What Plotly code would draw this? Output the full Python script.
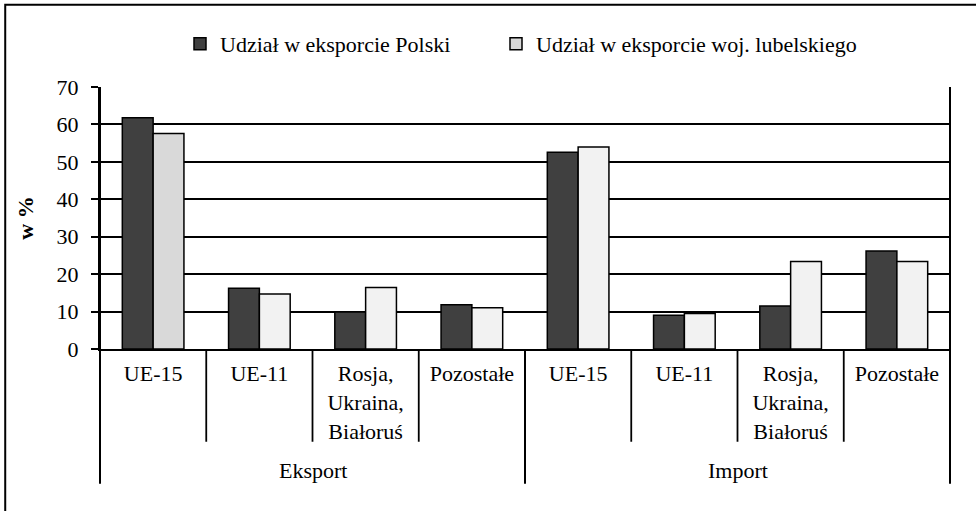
import plotly.graph_objects as go

categories = ["UE-15", "UE-11", "Rosja,<br>Ukraina,<br>Białoruś", "Pozostałe",
              "UE-15", "UE-11", "Rosja,<br>Ukraina,<br>Białoruś", "Pozostałe"]
groups = ["Eksport", "Import"]
series_names = ["Udział w eksporcie Polski", "Udział w eksporcie woj. lubelskiego"]
polska = [61.8, 16.2, 9.9, 11.8, 52.6, 9.0, 11.5, 26.2]
lubelskie = [57.6, 14.7, 16.4, 11.0, 54.0, 9.5, 23.4, 23.4]
y_ticks = [0, 10, 20, 30, 40, 50, 60, 70]

FONT = "'Times New Roman', 'Liberation Serif', Tinos, 'DejaVu Serif', serif"
DARK = "#404040"
LIGHT = "#f2f2f2"
LIGHT_FIRST = "#d9d9d9"

x = list(range(len(categories)))
fig = go.Figure()
fig.add_trace(go.Bar(x=x, y=polska, name=series_names[0], legend="legend",
                     marker=dict(color=DARK, line=dict(color="black", width=1.5))))
fig.add_trace(go.Bar(x=x, y=lubelskie, name=series_names[1], legend="legend2",
                     marker=dict(color=[LIGHT_FIRST] + [LIGHT] * (len(x) - 1),
                                 line=dict(color="black", width=1.5))))

n = len(categories)
per_group = n // len(groups)
shapes = []
# dividers between categories (short) and groups (long)
for k in range(n + 1):
    long_line = (k % per_group == 0)
    shapes.append(dict(type="line", xref="paper", yref="paper",
                       x0=k / n, x1=k / n, y0=1 if k in (0, n) else 0,
                       y1=-0.514 if long_line else -0.354,
                       line=dict(color="black", width=2 if long_line else 1.8)))
# outer frame
shapes.append(dict(type="rect", xref="paper", yref="paper",
                   x0=-0.1115, x1=1.05, y0=-0.7, y1=1.314,
                   line=dict(color="black", width=2), fillcolor="rgba(0,0,0,0)"))

annotations = []
for gi, g in enumerate(groups):
    annotations.append(dict(text=g, xref="paper", yref="paper",
                            x=(gi + 0.5) / len(groups), y=-0.465,
                            xanchor="center", yanchor="middle", showarrow=False,
                            font=dict(family=FONT, size=22, color="black")))

legend_common = dict(orientation="h", xref="container", yref="container",
                     y=1 - 44 / 511, xanchor="left", yanchor="middle",
                     font=dict(family=FONT, size=22, color="black"),
                     itemclick=False, bgcolor="rgba(0,0,0,0)")

fig.update_layout(
    width=976, height=511,
    margin=dict(l=100, r=26, t=86.5, b=162, autoexpand=False),
    paper_bgcolor="white", plot_bgcolor="white",
    barmode="group", bargap=0.42, bargroupgap=0,
    font=dict(family=FONT, size=22, color="black"),
    showlegend=True,
    legend=dict(x=180 / 976, **legend_common),
    legend2=dict(x=496 / 976, **legend_common),
    xaxis=dict(range=[-0.5, n - 0.5], tickmode="array", tickvals=x, ticktext=categories,
               showgrid=False, showline=True, linecolor="black", linewidth=2,
               ticks="", tickfont=dict(family=FONT, size=22, color="black"),
               ticklabelstandoff=4, fixedrange=True),
    yaxis=dict(range=[0, 70], tickmode="array", tickvals=y_ticks,
               showgrid=True, gridcolor="black", gridwidth=1.5,
               showline=True, linecolor="black", linewidth=2,
               ticks="outside", ticklen=7, tickwidth=1.5, tickcolor="black",
               ticklabelstandoff=8,
               tickfont=dict(family=FONT, size=22, color="black"),
               title=dict(text="<b>w %</b>", standoff=17,
                          font=dict(family=FONT, size=22, color="black")),
               zeroline=False, fixedrange=True),
    shapes=shapes, annotations=annotations,
)

fig.write_html("out.html", config={"displayModeBar": False},
               post_script="document.body.style.margin='0';")
